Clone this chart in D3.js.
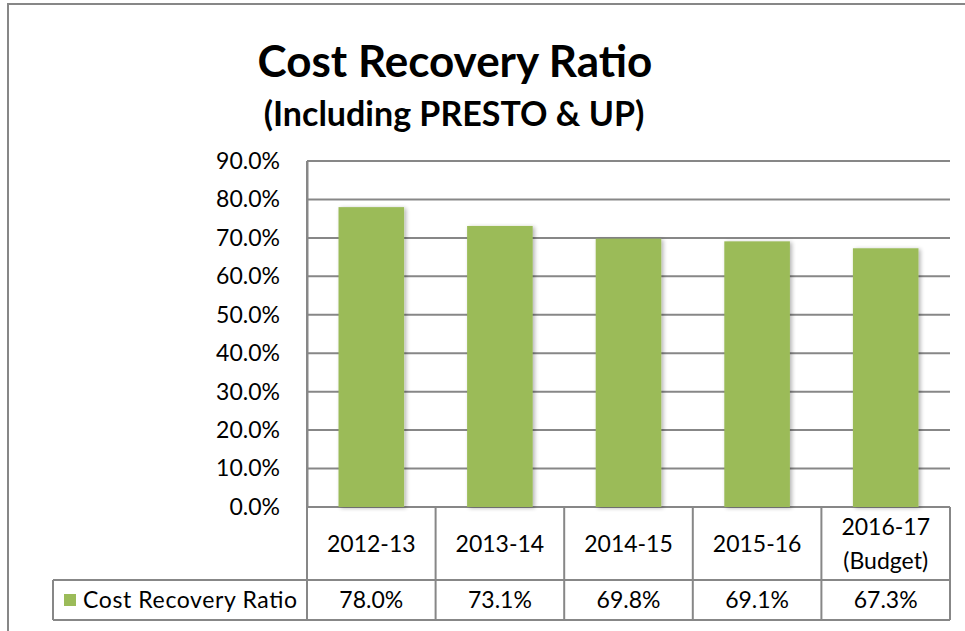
<!DOCTYPE html>
<html>
<head>
<meta charset="utf-8">
<script src="https://cdn.jsdelivr.net/npm/d3@7"></script>
<style>
  body { margin: 0; background: #fff; }
  svg { display: block; font-family: Lato, "Open Sans", sans-serif; }
</style>
</head>
<body>
<div class="chart"></div>
<script>
// cost recovery chart with data table underneath

var years = ['2012-13', '2013-14', '2014-15', '2015-16', '2016-17 (Budget)'];
var ratios = [78.0, 73.1, 69.8, 69.1, 67.3];
var yTicks = [0, 10, 20, 30, 40, 50, 60, 70, 80, 90];
var seriesName = 'Cost Recovery Ratio';

var opts = {
  width: 965,
  height: 631,
  left: 307,
  right: 950,
  top: 161,
  bottom: 507,
  catRow: 580,
  valRow: 620,
  legendLeft: 53,
  fontSize: 23,
  barColor: '#9bbb59',
  lineColor: '#878787'
};

var svg = d3.select('.chart').append('svg')
  .attr('width', opts.width)
  .attr('height', opts.height);

var defs = svg.append('defs');
var shadow = defs.append('filter').attr('id', 'shadow')
  .attr('x', '-20%').attr('y', '-5%').attr('width', '150%').attr('height', '110%');
shadow.append('feGaussianBlur').attr('in', 'SourceAlpha').attr('stdDeviation', 2);
shadow.append('feOffset').attr('dx', 2).attr('dy', 1).attr('result', 'off');
shadow.append('feComponentTransfer').append('feFuncA').attr('type', 'linear').attr('slope', 0.3);
var merge = shadow.append('feMerge');
merge.append('feMergeNode');
merge.append('feMergeNode').attr('in', 'SourceGraphic');

// outer frame (left and top only are visible)
svg.append('path')
  .attr('d', 'M8,631 V4 H965')
  .attr('fill', 'none')
  .attr('stroke', opts.lineColor)
  .attr('stroke-width', 2);

var x = d3.scaleBand().domain(years).range([opts.left, opts.right]).paddingInner(0).paddingOuter(0);
var y = d3.scaleLinear().domain([0, 90]).range([opts.bottom, opts.top]);

// titles
svg.append('text')
  .attr('x', 455).attr('y', 77)
  .attr('text-anchor', 'middle')
  .attr('font-weight', 'bold')
  .attr('font-size', 44)
  .text('Cost Recovery Ratio');

svg.append('text')
  .attr('x', 454).attr('y', 126)
  .attr('text-anchor', 'middle')
  .attr('font-weight', 'bold')
  .attr('font-size', 34)
  .text('(Including PRESTO & UP)');

// gridlines
svg.append('g').selectAll('line').data(yTicks).enter().append('line')
  .attr('x1', opts.left).attr('x2', opts.right)
  .attr('y1', d => y(d)).attr('y2', d => y(d))
  .attr('stroke', opts.lineColor)
  .attr('stroke-width', 2);

// y axis
var yAxis = svg.append('g')
  .attr('transform', `translate(${opts.left},0)`)
  .call(d3.axisLeft(y).tickValues(yTicks).tickSize(0).tickPadding(27)
    .tickFormat(d => d3.format('.1f')(d) + '%'));
yAxis.select('.domain').attr('stroke', opts.lineColor).attr('stroke-width', 2);
yAxis.selectAll('text').attr('font-size', opts.fontSize).attr('fill', '#000')
  .attr('font-family', 'Lato, sans-serif');

// bars
svg.append('g').selectAll('rect').data(ratios).enter().append('rect')
  .attr('x', (d, i) => x(years[i]) + x.bandwidth() * 0.245)
  .attr('width', x.bandwidth() * 0.51)
  .attr('y', d => y(d))
  .attr('height', d => y(0) - y(d))
  .attr('fill', opts.barColor)
  .attr('filter', 'url(#shadow)');

// data table
var table = svg.append('g').attr('fill', 'none').attr('stroke', opts.lineColor).attr('stroke-width', 2);
table.append('line').attr('x1', opts.left).attr('x2', opts.left).attr('y1', opts.top).attr('y2', opts.valRow);
table.append('line').attr('x1', opts.right).attr('x2', opts.right).attr('y1', opts.bottom).attr('y2', opts.valRow);
table.selectAll('.vsep').data(years.slice(1)).enter().append('line')
  .attr('x1', d => x(d)).attr('x2', d => x(d))
  .attr('y1', opts.bottom).attr('y2', opts.valRow);
table.append('line').attr('x1', opts.legendLeft).attr('x2', opts.right).attr('y1', opts.catRow).attr('y2', opts.catRow);
table.append('line').attr('x1', opts.legendLeft).attr('x2', opts.right).attr('y1', opts.valRow).attr('y2', opts.valRow);
table.append('line').attr('x1', opts.legendLeft).attr('x2', opts.legendLeft).attr('y1', opts.catRow).attr('y2', opts.valRow);

// category labels
var catText = svg.append('g').selectAll('text').data(years).enter().append('text')
  .attr('text-anchor', 'middle')
  .attr('font-size', opts.fontSize)
  .attr('x', d => x(d) + x.bandwidth() / 2);
catText.each(function(d) {
  var parts = d.split(' ');
  var t = d3.select(this);
  var mid = (opts.bottom + opts.catRow) / 2 + 8;
  var start = mid - (parts.length - 1) * 17;
  parts.forEach(function(p, i) {
    t.append('tspan').attr('x', x(d) + x.bandwidth() / 2).attr('y', start + i * 34).text(p);
  });
});

// value labels
svg.append('g').selectAll('text').data(ratios).enter().append('text')
  .attr('text-anchor', 'middle')
  .attr('font-size', opts.fontSize)
  .attr('x', (d, i) => x(years[i]) + x.bandwidth() / 2)
  .attr('y', (opts.catRow + opts.valRow) / 2 + 8)
  .text(d => d3.format('.1f')(d) + '%');

// legend cell
svg.append('rect')
  .attr('x', 64).attr('y', 594)
  .attr('width', 12).attr('height', 12)
  .attr('fill', opts.barColor);
svg.append('text')
  .attr('x', 83)
  .attr('y', (opts.catRow + opts.valRow) / 2 + 8)
  .attr('font-size', opts.fontSize)
  .attr('textLength', 214)
  .text(seriesName);
</script>
</body>
</html>
